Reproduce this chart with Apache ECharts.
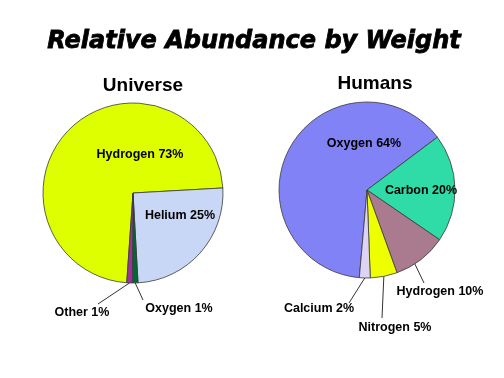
<!DOCTYPE html>
<html>
<head>
<meta charset="utf-8">
<script src="https://cdn.jsdelivr.net/npm/echarts@6/dist/echarts.min.js"></script>
<style>
  html, body { margin: 0; padding: 0; background: #fff; }
  #chart { width: 504px; height: 378px; }
</style>
</head>
<body>
<div id="chart"></div>
<script>
  // 数据
  const universeNames = ['Hydrogen', 'Helium', 'Oxygen', 'Other'];
  const universeValues = [73, 25, 1, 1];
  const universeColors = ['#deff00', '#c8d7f5', '#006633', '#993399'];

  const humanNames = ['Oxygen', 'Carbon', 'Hydrogen', 'Nitrogen', 'Calcium'];
  const humanValues = [64, 20, 10, 5, 2];
  const humanColors = ['#8282f7', '#2fdca8', '#aa7b8e', '#eeff00', '#dcd3f5'];

  // label centres, leader-line ends and how far out the line starts (style only)
  const universeLabelPos = [[140, 155], [180, 216], [179, 309], [82, 313]];
  const universeLineEnd = [null, null, [143, 300], [98, 304]];
  const universeLineStart = [1, 1, 1, 1];
  const humanLabelPos = [[364, 144], [421, 191], [440, 292], [395, 328], [319, 309]];
  const humanLineEnd = [null, null, [424, 283], [382, 318], [349, 303]];
  const humanLineStart = [1, 1, 0.6, 1, 1];

  const labelFont = {
    fontFamily: 'Liberation Sans',
    fontWeight: 'bold',
    fontSize: 12.5,
    color: '#000'
  };

  function buildData(names, values, colors, lineEnd) {
    return names.map((name, i) => ({
      name: name,
      value: values[i],
      itemStyle: { color: colors[i] },
      labelLine: { show: lineEnd[i] != null }
    }));
  }

  function pieSeries(names, values, colors, lineEnd, lineStart, labelPos, center, radius, startAngle) {
    return {
      type: 'pie',
      center: center,
      radius: radius,
      startAngle: startAngle,
      clockwise: true,
      avoidLabelOverlap: false,
      silent: true,
      itemStyle: {
        borderColor: '#3a3a3a',
        borderWidth: 0.8
      },
      label: Object.assign({
        show: true,
        position: 'outside',
        formatter: '{b} {c}%'
      }, labelFont),
      labelLine: {
        show: true,
        length: 10,
        length2: 0,
        lineStyle: { color: '#333', width: 1 }
      },
      labelLayout: function (params) {
        const i = params.dataIndex;
        const p = labelPos[i];
        const res = { x: p[0], y: p[1], align: 'center', verticalAlign: 'middle' };
        if (lineEnd[i] && params.labelLinePoints) {
          const a = params.labelLinePoints[0];
          const k = lineStart[i];
          const start = [center[0] + (a[0] - center[0]) * k, center[1] + (a[1] - center[1]) * k];
          res.labelLinePoints = [start, lineEnd[i]];
        }
        return res;
      },
      data: buildData(names, values, colors, lineEnd)
    };
  }

  const chart = echarts.init(document.getElementById('chart'), null, { renderer: 'canvas' });
  chart.setOption({
    animation: false,
    backgroundColor: '#fff',
    title: [
      {
        text: 'Relative Abundance by Weight',
        left: 254,
        top: 30,
        padding: 0,
        textAlign: 'center',
        textStyle: {
          fontFamily: 'DejaVu Sans',
          fontStyle: 'italic',
          fontWeight: 'bold',
          fontSize: 24,
          color: '#000',
          textBorderColor: '#000',
          textBorderWidth: 0.8
        }
      },
      {
        text: 'Universe',
        left: 143,
        top: 76,
        padding: 0,
        textAlign: 'center',
        textStyle: { fontFamily: 'Liberation Sans', fontWeight: 'bold', fontSize: 19, color: '#000' }
      },
      {
        text: 'Humans',
        left: 375,
        top: 74,
        padding: 0,
        textAlign: 'center',
        textStyle: { fontFamily: 'Liberation Sans', fontWeight: 'bold', fontSize: 19, color: '#000' }
      }
    ],
    series: [
      pieSeries(universeNames, universeValues, universeColors, universeLineEnd, universeLineStart, universeLabelPos, [133, 193], 90, 266),
      pieSeries(humanNames, humanValues, humanColors, humanLineEnd, humanLineStart, humanLabelPos, [367, 190], 88, 265)
    ]
  });
</script>
</body>
</html>
